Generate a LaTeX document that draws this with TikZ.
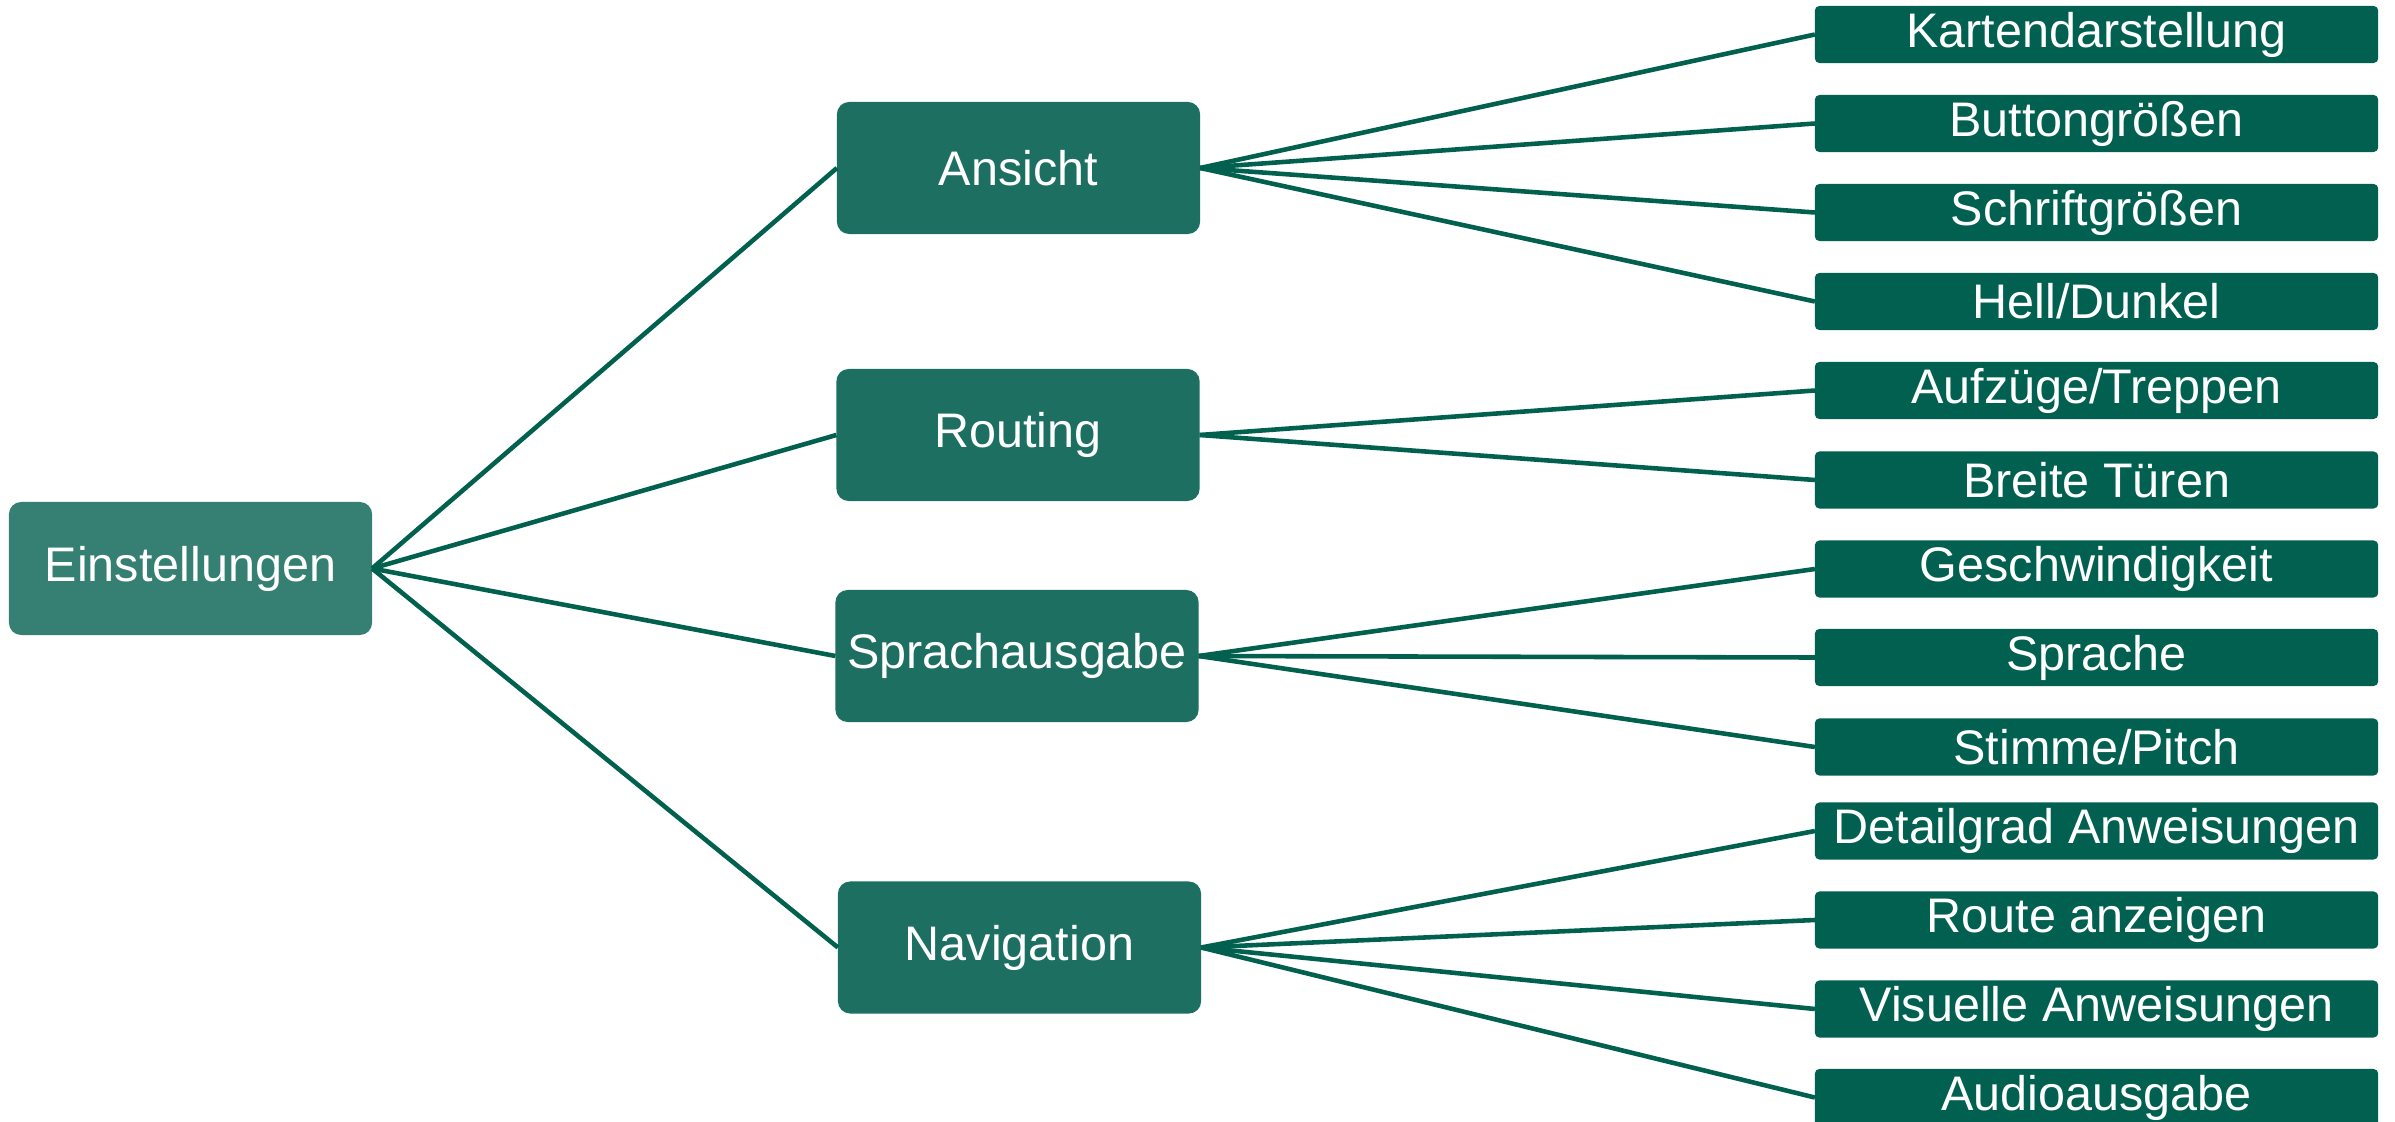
\documentclass[tikz,border=0pt]{standalone}
\usepackage{fontspec}
\setmainfont{Liberation Sans}
\definecolor{rootc}{HTML}{368073}
\definecolor{midc}{HTML}{1D6F61}
\definecolor{leafc}{HTML}{026050}
\definecolor{linec}{HTML}{02604F}
\begin{document}
\begin{tikzpicture}[x=0.01cm,y=-0.01cm,
  base/.style={text=white,inner sep=0pt,outer sep=0pt,anchor=center,font=\fontsize{13.8}{16}\selectfont},
  rootbox/.style={base,fill=rootc,rounded corners=3.5pt,minimum width=3.63cm,minimum height=1.33cm},
  midbox/.style={base,fill=midc,rounded corners=3.5pt,minimum width=3.63cm,minimum height=1.32cm},
  leafbox/.style={base,fill=leafc,rounded corners=1.3pt,minimum width=5.63cm,minimum height=0.57cm},
  conn/.style={draw=linec,line width=1.3pt}]
\useasboundingbox (0,0) rectangle (2395,1122);
\node[rootbox] (ein) at (190.5,568.5) {Einstellungen};
\node[midbox] (ans) at (1018.5,168) {Ansicht};
\node[midbox] (rou) at (1018,435) {Routing};
\node[midbox] (spr) at (1017,656) {Sprachausgabe};
\node[midbox] (nav) at (1019.5,947.5) {Navigation};
\node[leafbox] (l1) at (2096.5,34.5) {Kartendarstellung};
\node[leafbox] (l2) at (2096.5,123.5) {Buttongrößen};
\node[leafbox] (l3) at (2096.5,212.5) {Schriftgrößen};
\node[leafbox] (l4) at (2096.5,301.5) {Hell/Dunkel};
\node[leafbox] (l5) at (2096.5,390.5) {Aufzüge/Treppen};
\node[leafbox] (l6) at (2096.5,480) {Breite Türen};
\node[leafbox] (l7) at (2096.5,569) {Geschwindigkeit};
\node[leafbox] (l8) at (2096.5,657.5) {Sprache};
\node[leafbox] (l9) at (2096.5,747) {Stimme/Pitch};
\node[leafbox] (l10) at (2096.5,831) {Detailgrad Anweisungen};
\node[leafbox] (l11) at (2096.5,920) {Route anzeigen};
\node[leafbox] (l12) at (2096.5,1009) {Visuelle Anweisungen};
\node[leafbox] (l13) at (2096.5,1097.5) {Audioausgabe};
\foreach \m in {ans,rou,spr,nav} \draw[conn] (ein.east) -- (\m.west);
\foreach \l in {l1,l2,l3,l4} \draw[conn] (ans.east) -- (\l.west);
\foreach \l in {l5,l6} \draw[conn] (rou.east) -- (\l.west);
\foreach \l in {l7,l8,l9} \draw[conn] (spr.east) -- (\l.west);
\foreach \l in {l10,l11,l12,l13} \draw[conn] (nav.east) -- (\l.west);
\end{tikzpicture}
\end{document}
